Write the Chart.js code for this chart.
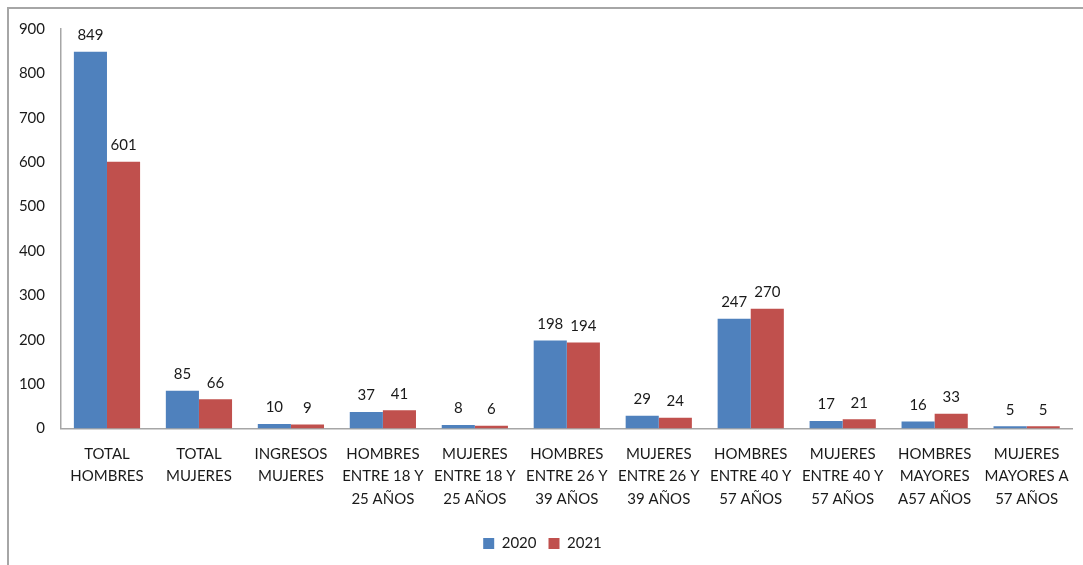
<!DOCTYPE html>
<html>
<head>
<meta charset="utf-8">
<script src="https://cdn.jsdelivr.net/npm/chart.js@4.4.0/dist/chart.umd.min.js"></script>
<style>
  html, body { margin: 0; padding: 0; background: #fff; overflow: hidden; }
  #wrap { position: relative; width: 1083px; height: 565px; }
  #frame { position: absolute; left: 7px; top: 7px; width: 1100px; height: 600px;
           border-left: 2px solid #A6A6A6; border-top: 2px solid #A6A6A6; box-sizing: border-box; }
  canvas { position: absolute; left: 0; top: 0; }
</style>
</head>
<body>
<div id="wrap">
  <div id="frame"></div>
  <canvas id="myChart" width="1083" height="565"></canvas>
</div>
<script>
const categories = [
    ['TOTAL', 'HOMBRES'],
    ['TOTAL', 'MUJERES'],
    ['INGRESOS', 'MUJERES'],
    ['HOMBRES', 'ENTRE 18 Y', '25 AÑOS'],
    ['MUJERES', 'ENTRE 18 Y', '25 AÑOS'],
    ['HOMBRES', 'ENTRE 26 Y', '39 AÑOS'],
    ['MUJERES', 'ENTRE 26 Y', '39 AÑOS'],
    ['HOMBRES', 'ENTRE 40 Y', '57 AÑOS'],
    ['MUJERES', 'ENTRE 40 Y', '57 AÑOS'],
    ['HOMBRES', 'MAYORES', 'A57 AÑOS'],
    ['MUJERES', 'MAYORES A', '57 AÑOS']
];
const values2020 = [849, 85, 10, 37, 8, 198, 29, 247, 17, 16, 5];
const values2021 = [601, 66, 9, 41, 6, 194, 24, 270, 21, 33, 5];
const yTicks = [0, 100, 200, 300, 400, 500, 600, 700, 800, 900];

const FONT = 'Lato, "Open Sans", sans-serif';
const TEXT = '#1a1a1a';

// etiquetas encima de cada barra
const valueLabels = {
    id: 'valueLabels',
    afterDatasetsDraw(chart) {
        const ctx = chart.ctx;
        ctx.save();
        ctx.font = '15px ' + FONT;
        ctx.fillStyle = TEXT;
        ctx.textAlign = 'center';
        ctx.textBaseline = 'bottom';
        chart.data.datasets.forEach((ds, i) => {
            chart.getDatasetMeta(i).data.forEach((bar, j) => {
                ctx.fillText(ds.data[j], bar.x, bar.y - 9);
            });
        });
        ctx.restore();
    }
};

const ctx = document.getElementById('myChart').getContext('2d');
const chart = new Chart(ctx, {
    type: 'bar',
    data: {
        labels: categories,
        datasets: [
            { label: '2020', data: values2020, backgroundColor: '#4F81BD' },
            { label: '2021', data: values2021, backgroundColor: '#C0504D' }
        ]
    },
    options: {
        responsive: false,
        animation: false,
        layout: { padding: { top: 29, right: 8, left: 10, bottom: 4 } },
        datasets: { bar: { categoryPercentage: 0.72, barPercentage: 1 } },
        plugins: {
            legend: {
                display: true,
                position: 'bottom',
                labels: {
                    font: { size: 15, family: FONT },
                    color: TEXT,
                    boxWidth: 11,
                    boxHeight: 11,
                    padding: 12
                }
            },
            tooltip: { enabled: false }
        },
        scales: {
            x: {
                grid: { display: false, drawTicks: false },
                border: { display: true, color: '#A6A6A6', width: 1.5 },
                ticks: { font: { size: 15, family: FONT, lineHeight: 1.5 }, color: TEXT, maxRotation: 0, autoSkip: false, padding: 14 }
            },
            y: {
                min: 0,
                max: 900,
                grid: { display: false, drawTicks: false },
                border: { display: true, color: '#A6A6A6', width: 1.5 },
                afterBuildTicks: axis => { axis.ticks = yTicks.map(v => ({ value: v })); },
                afterFit: axis => { axis.width = 51; },
                ticks: { font: { size: 15, family: FONT }, color: TEXT, padding: 16 }
            }
        }
    },
    plugins: [valueLabels]
});
</script>
</body>
</html>
